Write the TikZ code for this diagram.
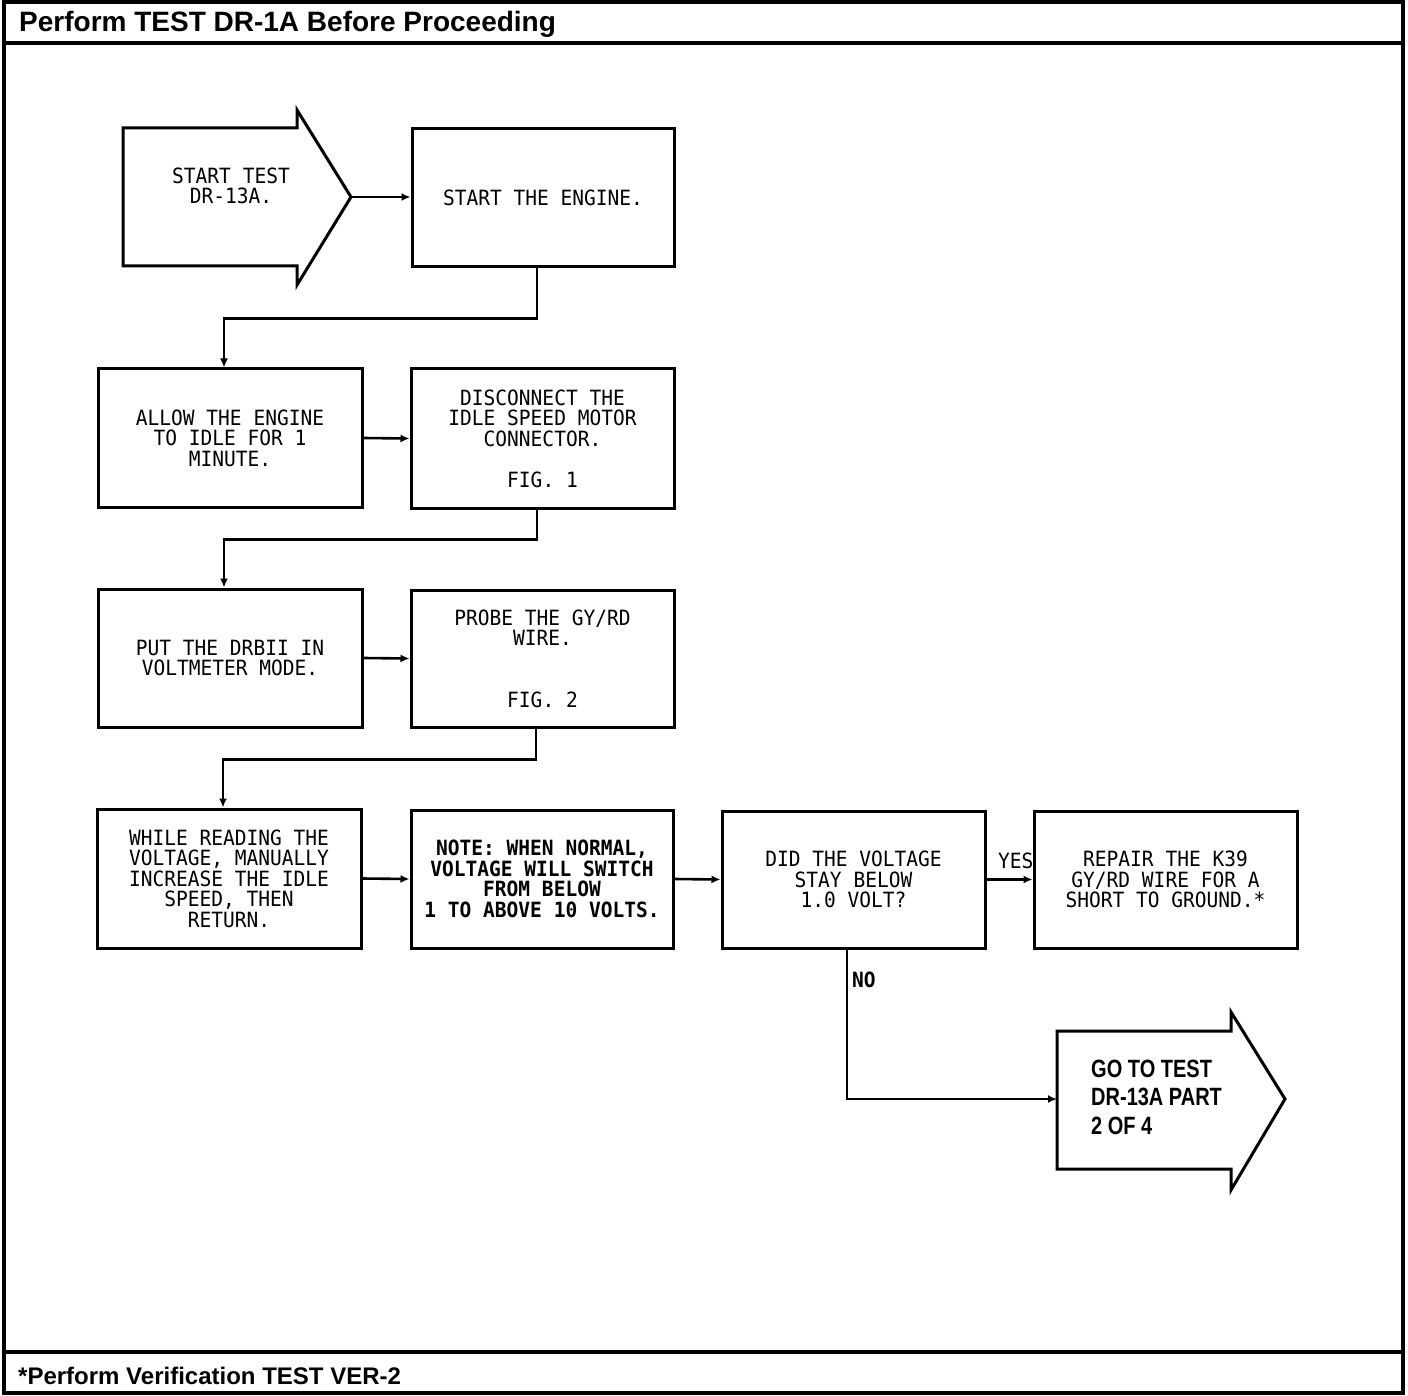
\documentclass[tikz,border=0pt]{standalone}
\usepackage{fontspec}
\usetikzlibrary{arrows.meta}
\newfontfamily\boxfont[FakeStretch=0.93]{DejaVu Sans Mono}
\newfontfamily\headfont{Liberation Sans}
\newfontfamily\gofont[FakeStretch=0.8]{Liberation Sans}
\begin{document}
\begin{tikzpicture}[x=1pt,y=-1pt,
  box/.style={draw, line width=3pt, inner sep=0pt, align=center,
    font=\boxfont\fontsize{21}{20.5}\selectfont},
  bigarrow/.style={draw, line width=3pt, line join=miter},
  conn/.style={line width=2.6pt, -{Latex[length=9pt,width=8pt]}},
  lbl/.style={inner sep=0pt, font=\boxfont\fontsize{21}{20.5}\selectfont},
  frame/.style={line width=3.2pt}]
\useasboundingbox (0,0) rectangle (1408,1396);
% frame
\draw[frame] (4,2) rectangle (1403,1393);
\draw[frame] (4,43) -- (1403,43);
\draw[frame] (4,1352) -- (1403,1352);
\node[anchor=base west, inner sep=0pt, font=\headfont\bfseries\fontsize{28}{30}\selectfont] (title) at (19,32) {Perform TEST DR-1A Before Proceeding};
\node[anchor=base west, inner sep=0pt, font=\headfont\bfseries\fontsize{24}{26}\selectfont] (foot) at (18,1384) {*Perform Verification TEST VER-2};
% start arrow
\draw[bigarrow] (123,128) -- (297,128) -- (297,110) -- (351,197) -- (297,285) -- (297,266) -- (123,266) -- cycle;
\coordinate (stip) at (351,197);
\node[lbl, align=center] (st) at (231,186) {START TEST\\DR-13A.};
% boxes
\node[box, minimum width=262pt, minimum height=138pt] (b1) at (543,198) {START THE ENGINE.};
\node[box, minimum width=264pt, minimum height=138pt] (b2) at (230,438) {ALLOW THE ENGINE\\TO IDLE FOR 1\\MINUTE.};
\node[box, minimum width=263pt, minimum height=139pt] (b3) at (542.5,438.5) {DISCONNECT THE\\IDLE SPEED MOTOR\\CONNECTOR.\\[\baselineskip]FIG. 1};
\node[box, minimum width=264pt, minimum height=138pt] (b4) at (230,658) {PUT THE DRBII IN\\VOLTMETER MODE.};
\node[box, minimum width=263pt, minimum height=137pt] (b5) at (542.5,658.5) {PROBE THE GY/RD\\WIRE.\\[2\baselineskip]FIG. 2};
\node[box, minimum width=264pt, minimum height=139pt] (b6) at (229,878.5) {WHILE READING THE\\VOLTAGE, MANUALLY\\INCREASE THE IDLE\\SPEED, THEN\\RETURN.};
\node[box, minimum width=262pt, minimum height=138pt, font=\boxfont\bfseries\fontsize{21}{20.5}\selectfont] (b7) at (542,879) {NOTE: WHEN NORMAL,\\VOLTAGE WILL SWITCH\\FROM BELOW\\1 TO ABOVE 10 VOLTS.};
\node[box, minimum width=263pt, minimum height=137pt] (b8) at (853.5,879.5) {DID THE VOLTAGE\\STAY BELOW\\1.0 VOLT?};
\node[box, minimum width=263pt, minimum height=137pt] (b9) at (1165.5,879.5) {REPAIR THE K39\\GY/RD WIRE FOR A\\SHORT TO GROUND.*};
% end arrow
\draw[bigarrow] (1057,1031) -- (1231,1031) -- (1231,1012) -- (1285,1099) -- (1231,1190) -- (1231,1169) -- (1057,1169) -- cycle;
\coordinate (gin) at (1057,1099);
\node[anchor=west, inner sep=0pt, align=left, font=\gofont\bfseries\fontsize{25}{28.5}\selectfont] (go) at (1091,1097) {GO TO TEST\\DR-13A PART\\2 OF 4};
% connectors
\draw[conn] (stip) -- (stip -| b1.west);
\draw[conn] ([xshift=-6pt]b1.south) -- ++(0,50) -| ([xshift=-6pt]b2.north);
\draw[conn] (b2.east) -- (b3.west);
\draw[conn] ([xshift=-5.5pt]b3.south) -- ++(0,30) -| ([xshift=-6pt]b4.north);
\draw[conn] (b4.east) -- (b5.west);
\draw[conn] ([xshift=-6.5pt]b5.south) -- ++(0,31) -| ([xshift=-6pt]b6.north);
\draw[conn] (b6.east) -- (b7.west);
\draw[conn] (b7.east) -- (b8.west);
\draw[conn] (b8.east) -- (b9.west);
\draw[conn] ([xshift=-6.5pt]b8.south) |- (gin);
\node[lbl, anchor=base west] (yes) at (998,868) {YES};
\node[lbl, anchor=base west, font=\boxfont\bfseries\fontsize{21}{20.5}\selectfont] (no) at (852,987) {NO};
\end{tikzpicture}
\end{document}
